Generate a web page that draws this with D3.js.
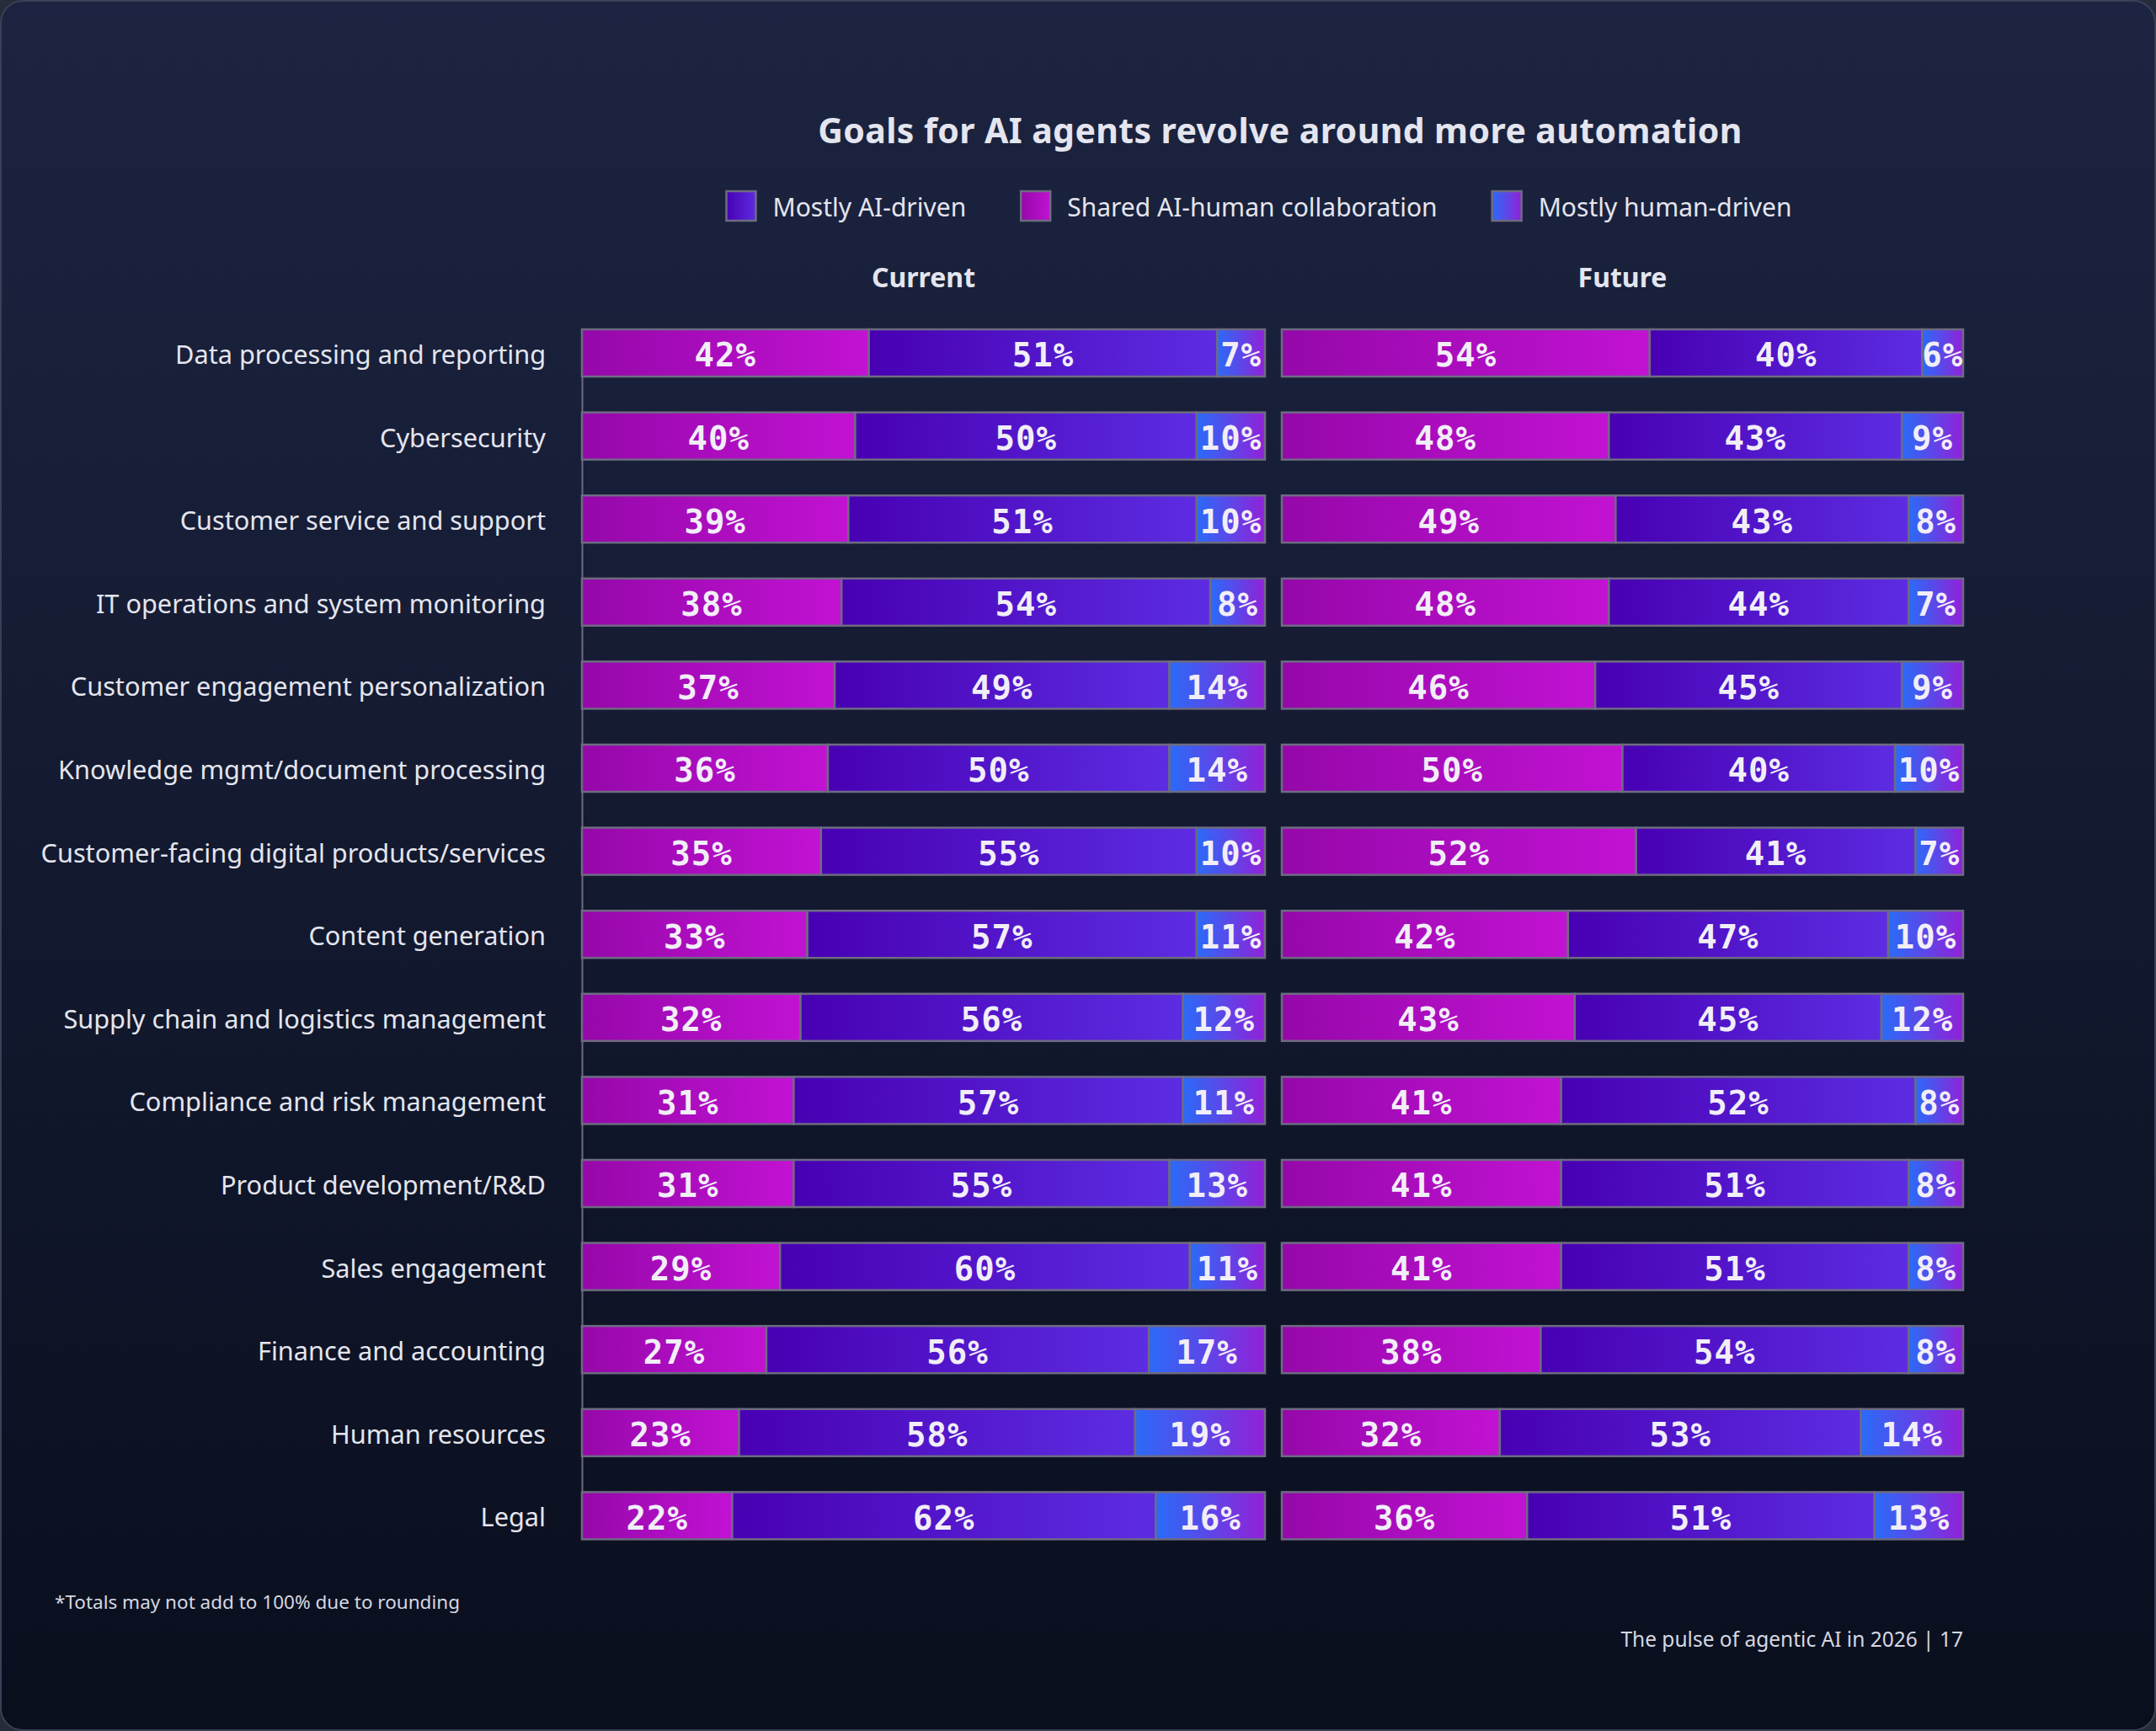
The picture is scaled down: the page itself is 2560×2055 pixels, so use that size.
<!DOCTYPE html>
<html>
<head>
<meta charset="utf-8">
<script src="https://cdn.jsdelivr.net/npm/d3@7"></script>
<style>
  html, body { margin: 0; padding: 0; background: #272c3b; }
  svg { display: block; }
</style>
</head>
<body>
<div id="chart"></div>
<script>
const categories = [
  "Data processing and reporting",
  "Cybersecurity",
  "Customer service and support",
  "IT operations and system monitoring",
  "Customer engagement personalization",
  "Knowledge mgmt/document processing",
  "Customer-facing digital products/services",
  "Content generation",
  "Supply chain and logistics management",
  "Compliance and risk management",
  "Product development/R&D",
  "Sales engagement",
  "Finance and accounting",
  "Human resources",
  "Legal"
];

// order in each bar: shared, mostly AI, mostly human
const currentShared = [42, 40, 39, 38, 37, 36, 35, 33, 32, 31, 31, 29, 27, 23, 22];
const currentAI     = [51, 50, 51, 54, 49, 50, 55, 57, 56, 57, 55, 60, 56, 58, 62];
const currentHuman  = [ 7, 10, 10,  8, 14, 14, 10, 11, 12, 11, 13, 11, 17, 19, 16];

const futureShared  = [54, 48, 49, 48, 46, 50, 52, 42, 43, 41, 41, 41, 38, 32, 36];
const futureAI      = [40, 43, 43, 44, 45, 40, 41, 47, 45, 52, 51, 51, 54, 53, 51];
const futureHuman   = [ 6,  9,  8,  7,  9, 10,  7, 10, 12,  8,  8,  8,  8, 14, 13];

const seriesKeys   = ["shared", "ai", "human"];
const legendKeys   = ["ai", "shared", "human"];
const legendLabels = {
  ai: "Mostly AI-driven",
  shared: "Shared AI-human collaboration",
  human: "Mostly human-driven"
};

const W = 2560, H = 2055;
const sans = "'Noto Sans', 'Open Sans', sans-serif";
const mono = "'DejaVu Sans Mono', monospace";
const textColor = "#e4e5ee";
const strokeGray = "#6e6b82";

const svg = d3.select("#chart")
  .append("svg")
  .attr("width", W)
  .attr("height", H);

const defs = svg.append("defs");

const bg = defs.append("linearGradient")
  .attr("id", "bg").attr("x1", 0).attr("y1", 0).attr("x2", 0).attr("y2", 1);
bg.append("stop").attr("offset", 0).attr("stop-color", "#1c2441");
bg.append("stop").attr("offset", 1).attr("stop-color", "#0a0f1e");

const grads = {
  shared: ["#9508a9", "#c212d3"],
  ai:     ["#4800b3", "#5d2ce2"],
  human:  ["#2a6bf8", "#9121d8"]
};
Object.entries(grads).forEach(([k, c]) => {
  const lg = defs.append("linearGradient").attr("id", "g-" + k);
  lg.append("stop").attr("offset", 0).attr("stop-color", c[0]);
  lg.append("stop").attr("offset", 1).attr("stop-color", c[1]);
});

svg.append("rect")
  .attr("x", 1).attr("y", 1)
  .attr("width", W - 2).attr("height", H - 2)
  .attr("rx", 26)
  .attr("fill", "url(#bg)")
  .attr("stroke", "#3a4057")
  .attr("stroke-width", 2);

// title
svg.append("text")
  .attr("x", 1520).attr("y", 170)
  .attr("text-anchor", "middle")
  .attr("font-family", sans)
  .attr("font-weight", 700)
  .attr("font-size", 41)
  .attr("letter-spacing", 0.4)
  .attr("fill", textColor)
  .text("Goals for AI agents revolve around more automation");

// legend
const legend = svg.append("g");
let lx = 0;
legendKeys.forEach(k => {
  const item = legend.append("g").attr("transform", `translate(${lx},0)`);
  item.append("rect")
    .attr("x", 0).attr("y", 227)
    .attr("width", 35).attr("height", 35)
    .attr("fill", `url(#g-${k})`)
    .attr("stroke", strokeGray)
    .attr("stroke-width", 2.5);
  const t = item.append("text")
    .attr("x", 55).attr("y", 257)
    .attr("font-family", sans)
    .attr("font-size", 30)
    .attr("fill", textColor)
    .text(legendLabels[k]);
  lx += 55 + t.node().getComputedTextLength() + 65;
});
const legendW = lx - 65;
legend.attr("transform", `translate(${1495 - legendW / 2},0)`);

// scales
const y = d3.scaleBand()
  .domain(categories)
  .range([391, 1827.4])
  .paddingInner(0.432)
  .paddingOuter(0);

const panels = [
  { name: "Current", range: [691, 1502], shared: currentShared, ai: currentAI, human: currentHuman },
  { name: "Future",  range: [1522, 2331], shared: futureShared, ai: futureAI, human: futureHuman }
];

// category axis
const yAxis = svg.append("g")
  .attr("transform", "translate(691,0)")
  .call(d3.axisLeft(y).tickSize(0).tickPadding(43));
yAxis.select(".domain")
  .attr("stroke", strokeGray)
  .attr("stroke-width", 2);
yAxis.selectAll(".tick text")
  .attr("font-family", sans)
  .attr("font-size", 30.7)
  .attr("fill", textColor)
  .attr("dy", "0.42em");

panels.forEach(p => {
  const x = d3.scaleLinear().domain([0, 100]).range(p.range);

  svg.append("text")
    .attr("x", (p.range[0] + p.range[1]) / 2)
    .attr("y", 341)
    .attr("text-anchor", "middle")
    .attr("font-family", sans)
    .attr("font-weight", 700)
    .attr("font-size", 32)
    .attr("fill", textColor)
    .text(p.name);

  // stacked from 0; the last segment takes up the rest of the bar up to 100
  const rows = categories.map((c, i) => {
    let acc = 0;
    const segs = seriesKeys.map((k, j) => {
      const v = p[k][i];
      const last = j === seriesKeys.length - 1;
      const s = {
        key: k,
        value: v,
        x0: Math.min(acc, 100),
        x1: last ? 100 : Math.min(acc + v, 100)
      };
      acc += v;
      return s;
    });
    return { cat: c, segs };
  });

  const g = svg.append("g");

  const row = g.selectAll("g.row")
    .data(rows)
    .join("g")
    .attr("class", "row")
    .attr("transform", d => `translate(0,${y(d.cat)})`);

  row.selectAll("rect.seg")
    .data(d => d.segs)
    .join("rect")
    .attr("class", "seg")
    .attr("x", d => x(d.x0))
    .attr("y", 0)
    .attr("width", d => x(d.x1) - x(d.x0))
    .attr("height", y.bandwidth())
    .attr("fill", d => `url(#g-${d.key})`)
    .attr("stroke", strokeGray)
    .attr("stroke-width", 2.5);

  row.selectAll("text.val")
    .data(d => d.segs)
    .join("text")
    .attr("class", "val")
    .attr("x", d => (x(d.x0) + x(d.x1)) / 2)
    .attr("y", y.bandwidth() / 2)
    .attr("dy", "0.42em")
    .attr("text-anchor", "middle")
    .attr("font-family", mono)
    .attr("font-weight", 700)
    .attr("font-size", 39)
    .attr("letter-spacing", 1)
    .attr("fill", "#f1eef8")
    .text(d => d.value + "%");
});

// footnotes
svg.append("text")
  .attr("x", 65).attr("y", 1910)
  .attr("font-family", sans)
  .attr("font-size", 22.5)
  .attr("fill", "#d6d7e0")
  .text("*Totals may not add to 100% due to rounding");

svg.append("text")
  .attr("x", 2331).attr("y", 1955)
  .attr("text-anchor", "end")
  .attr("font-family", sans)
  .attr("font-size", 24.5)
  .attr("fill", "#d6d7e0")
  .text("The pulse of agentic AI in 2026 | 17");
</script>
</body>
</html>
